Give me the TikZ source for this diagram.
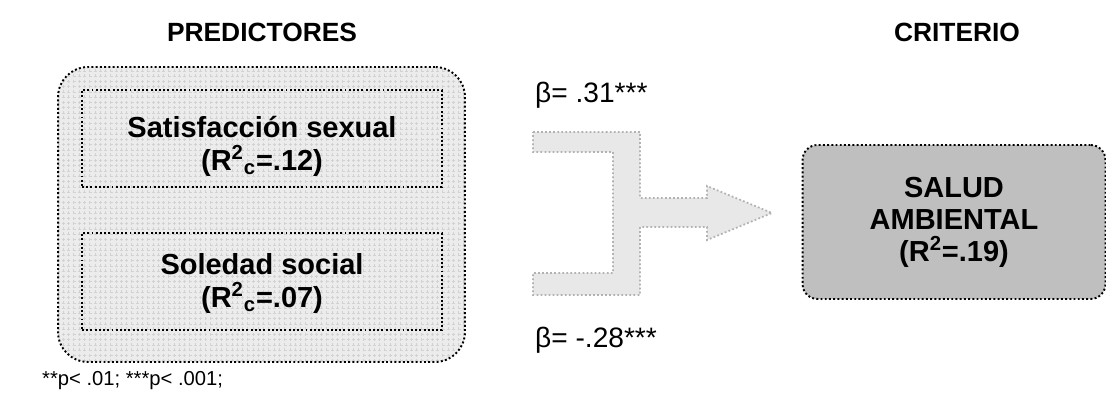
\documentclass[tikz,border=0pt]{standalone}
\usepackage{fontspec}
\setmainfont{Liberation Sans}
\usetikzlibrary{patterns}

\begin{document}
\begin{tikzpicture}[x=0.02cm,y=-0.02cm,
			head node/.style={font=\fontsize{15}{18}\selectfont\bfseries},
			var node/.style={draw,line width=1.1pt,dash pattern=on 1.1pt off 1.3pt,minimum width=7.2cm,minimum height=1.94cm},
			var text/.style={align=center,font=\fontsize{16.5}{18.5}\selectfont\bfseries},
			group box/.style={draw,line width=1.1pt,dash pattern=on 1.1pt off 1.3pt,rounded corners=0.6cm,minimum width=8.14cm,minimum height=5.9cm,preaction={fill=gray!15},pattern=grid,pattern color=gray!35},
			crit node/.style={draw,line width=1.1pt,dash pattern=on 1.1pt off 1.3pt,rounded corners=0.3cm,fill=gray!50,minimum width=6.06cm,minimum height=3.08cm,align=center,font=\fontsize{16.5}{18.2}\selectfont\bfseries},
			beta node/.style={anchor=west,font=\fontsize{16}{18}\selectfont}
			]
			\useasboundingbox (0,0) rectangle (1106,403);
			
			\node[head node] (pred) at (262,32) {PREDICTORES};
			\node[head node] (crit) at (957,32) {CRITERIO};
			
			\node[group box] (group) at (261.5,214.5) {};
			\node[var node] (sat) at (262,138.5) {};
			\node[var text] (sat text) at ([yshift=-0.16cm]sat.center) {Satisfacción sexual\\(R\textsuperscript{2}\textsubscript{c}=.12)};
			\node[var node] (sol) at (262,281.5) {};
			\node[var text] (sol text) at ([yshift=-0.04cm]sol.center) {Soledad social\\(R\textsuperscript{2}\textsubscript{c}=.07)};
			
			\node[crit node] (salud) at (954,222) {SALUD\\AMBIENTAL\\(R\textsuperscript{2}=.19)};
			
			\node[beta node] (b1) at (529,95) {β= .31***};
			\node[beta node] (b2) at (529,340) {β= -.28***};
			
			% flecha de union
			\draw[fill=gray!18,draw=gray!60,line width=1pt,dash pattern=on 1pt off 1.3pt]
				(533,132) -- (640,132) -- (640,198) -- (707,198) -- (707,186) -- (772,213)
				-- (707,240) -- (707,227) -- (640,227) -- (640,295) -- (533,295) -- (533,273)
				-- (613,273) -- (613,152) -- (533,152) -- cycle;
			
			\node[anchor=west,font=\fontsize{11.5}{14}\selectfont] (nota) at (36,381) {**p< .01; ***p< .001;};
\end{tikzpicture}
\end{document}
